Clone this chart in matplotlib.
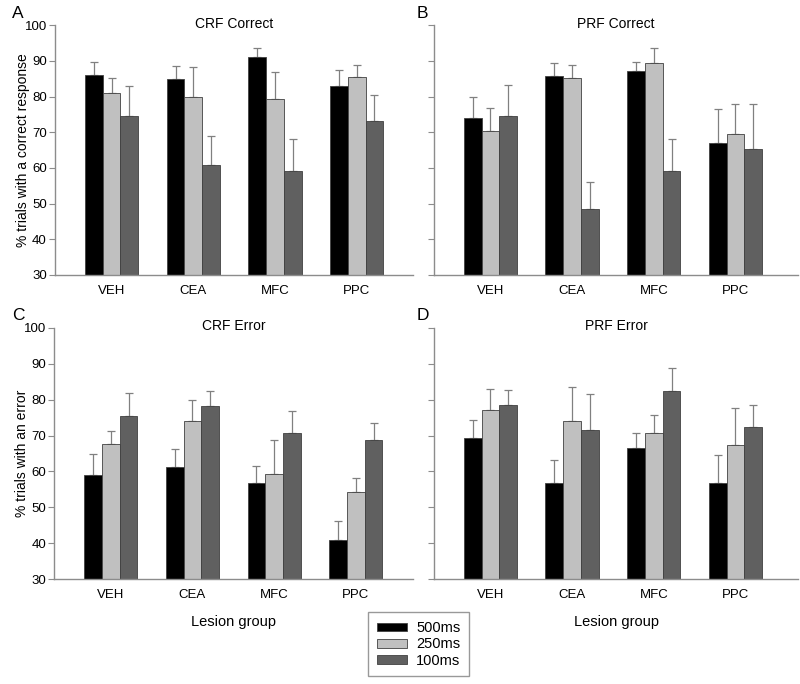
import numpy as np
import matplotlib
matplotlib.use("Agg")
import matplotlib.pyplot as plt

plt.rcParams['font.family'] = ['Liberation Sans', 'DejaVu Sans']

groups = ["VEH", "CEA", "MFC", "PPC"]
delays = ["500ms", "250ms", "100ms"]

# mean values (rows = delay 500/250/100, cols = lesion group)
crf_correct = [[86.0, 84.9, 91.0, 82.9],
               [80.9, 80.0, 79.2, 85.6],
               [74.5, 60.8, 59.2, 73.1]]
crf_correct_top = [[89.6, 88.6, 93.7, 87.6],
                   [85.1, 88.3, 87.0, 89.0],
                   [83.0, 69.1, 68.2, 80.5]]

prf_correct = [[74.1, 85.9, 87.2, 67.1],
               [70.4, 85.1, 89.4, 69.5],
               [74.5, 48.5, 59.2, 65.3]]
prf_correct_top = [[80.0, 89.3, 89.8, 76.4],
                   [76.9, 89.0, 93.7, 77.8],
                   [83.4, 56.0, 68.0, 77.8]]

crf_error = [[59.1, 61.3, 56.7, 40.9],
             [67.6, 74.1, 59.3, 54.2],
             [75.4, 78.2, 70.8, 68.8]]
crf_error_top = [[64.9, 66.2, 61.6, 46.2],
                 [71.3, 79.8, 68.8, 58.1],
                 [81.9, 82.4, 76.8, 73.4]]

prf_error = [[69.3, 56.7, 66.6, 56.7],
             [77.1, 74.1, 70.7, 67.4],
             [78.5, 71.6, 82.5, 72.3]]
prf_error_top = [[74.3, 63.1, 70.7, 64.6],
                 [82.9, 83.5, 75.7, 77.6],
                 [82.8, 81.6, 88.8, 78.5]]

colors = ["#000000", "#c0c0c0", "#606060"]
spine_col = "#8c8c8c"

fig = plt.figure(figsize=(8, 6.84), dpi=100)

# letter, title, means, error tops, axes rect, y label, x label?, letter position
panels = [
    ("A", "CRF Correct", crf_correct, crf_correct_top, [0.069, 0.598, 0.447, 0.365],
     "% trials with a correct response", False, (0.015, 0.980)),
    ("B", "PRF Correct", prf_correct, prf_correct_top, [0.5425, 0.598, 0.455, 0.365],
     None, False, (0.521, 0.980)),
    ("C", "CRF Error", crf_error, crf_error_top, [0.068, 0.1535, 0.448, 0.367],
     "% trials with an error", True, (0.015, 0.539)),
    ("D", "PRF Error", prf_error, prf_error_top, [0.5425, 0.1535, 0.455, 0.367],
     None, True, (0.521, 0.539)),
]

x = np.arange(len(groups))
w = 0.217
for letter, title, means, tops, pos, ylab, xlab, lpos in panels:
    ax = fig.add_axes(pos)
    for i in range(3):
        m = np.array(means[i])
        e = np.array(tops[i]) - m
        xs = x + (i - 1) * w
        ax.bar(xs, m - 30, w, bottom=30, color=colors[i], edgecolor="#404040", linewidth=0.6, zorder=2)
        ax.errorbar(xs, m, yerr=[np.zeros_like(e), e], fmt="none", ecolor="#808080",
                    elinewidth=0.9, capsize=3, capthick=0.9, zorder=1)
    ax.set_ylim(30, 100)
    width_units = pos[2] * 800 / 81.7
    ax.set_xlim(-0.69, -0.69 + width_units)
    ax.set_yticks(np.arange(30, 101, 10))
    ax.set_xticks(x)
    ax.set_xticklabels(groups, fontsize=9.5)
    ax.tick_params(axis="x", length=0, pad=7)
    ax.tick_params(axis="y", direction="out", length=4, color=spine_col, labelsize=9.5, pad=2)
    if ylab is None:
        ax.set_yticklabels([])
    else:
        ax.set_ylabel(ylab, fontsize=10, labelpad=-4)
    for s in ["top", "right"]:
        ax.spines[s].set_visible(False)
    for s in ["left", "bottom"]:
        ax.spines[s].set_color(spine_col)
        ax.spines[s].set_linewidth(1.0)
    ax.set_title(title, fontsize=10, y=1.0, pad=-1.8)
    if xlab:
        ax.set_xlabel("Lesion group", fontsize=10.5, labelpad=10)
    fig.text(lpos[0], lpos[1], letter, fontsize=12.5, ha="left", va="center")

handles = [plt.Rectangle((0, 0), 1, 1, facecolor=c, edgecolor="#404040", linewidth=0.6) for c in colors]
fig.legend(handles, delays, loc="center", bbox_to_anchor=(0.523, 0.058), fontsize=10.5,
           frameon=True, fancybox=False, edgecolor="#808080", handlelength=2.1, handleheight=0.55,
           borderpad=0.6, labelspacing=0.15, handletextpad=0.6, borderaxespad=0)

fig.savefig("out.png", dpi=100)
